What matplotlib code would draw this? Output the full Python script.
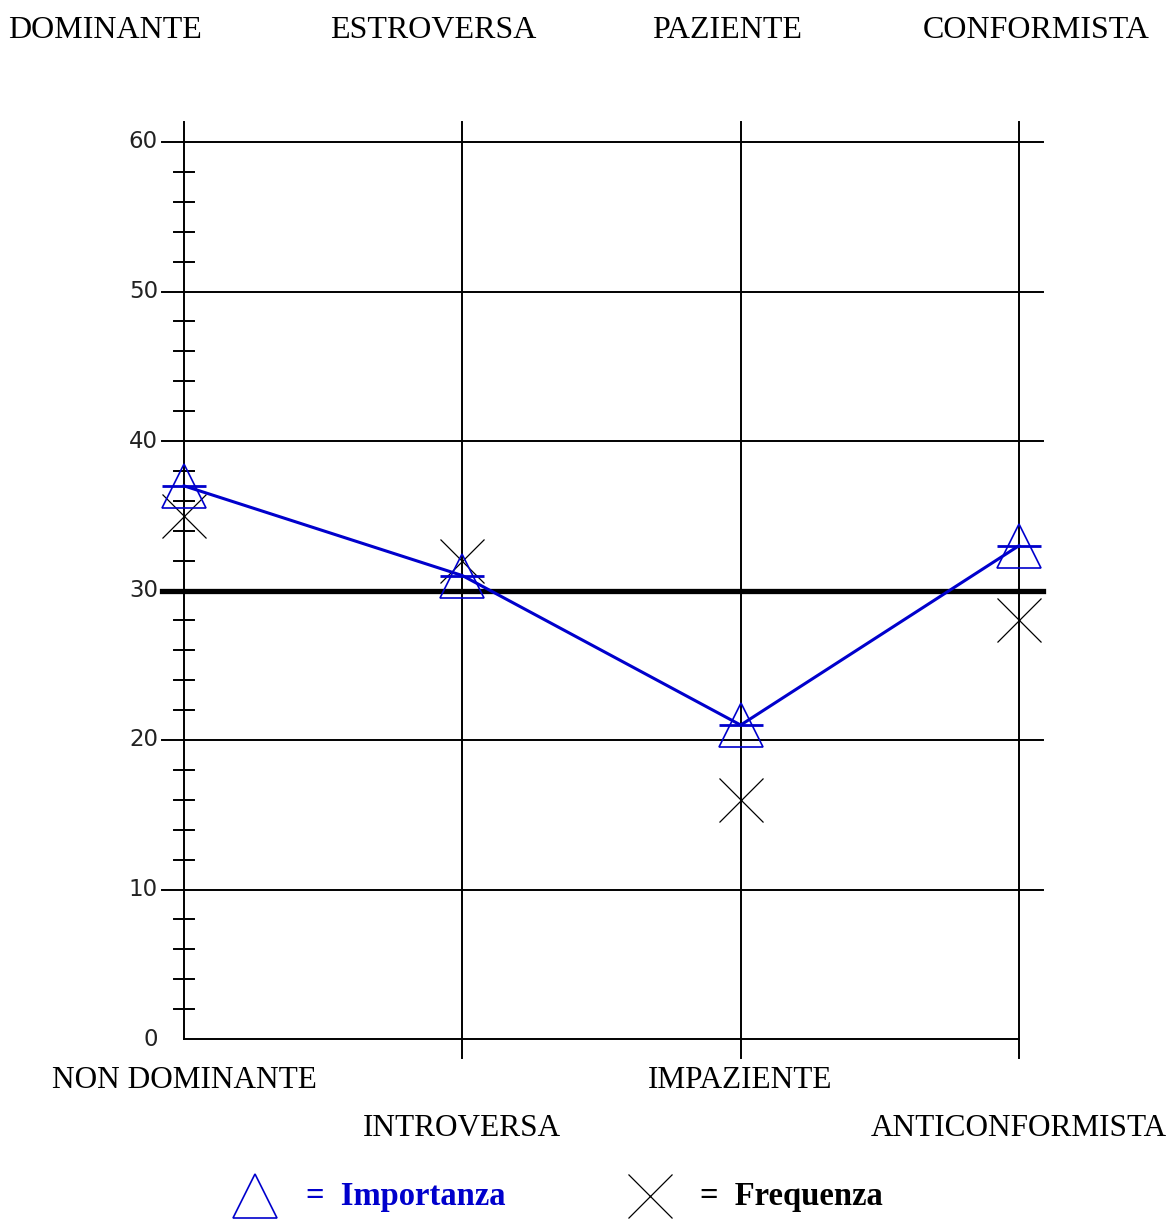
import matplotlib
matplotlib.use("Agg")
import matplotlib.pyplot as plt

# ---- data ----
top_labels = ["DOMINANTE", "ESTROVERSA", "PAZIENTE", "CONFORMISTA"]
bottom_labels = ["NON DOMINANTE", "INTROVERSA", "IMPAZIENTE", "ANTICONFORMISTA"]
importanza = [37, 31, 21, 33]
frequenza = [35, 32, 16, 28]
y_major = [0, 10, 20, 30, 40, 50, 60]
y_minor = [2, 4, 6, 8, 12, 14, 16, 18, 22, 24, 26, 28, 32, 34, 36, 38, 42, 44, 46, 48, 52, 54, 56, 58]
reference_line = 30

W, H = 1173, 1221
fig = plt.figure(figsize=(W / 100, H / 100), dpi=100)
fig.patch.set_facecolor("white")

def fx(px):
    return px / W

def fy(py):
    return 1 - py / H

# axes: x=0..3 maps to px 184..1019, y=0..60 maps to py 1039..142
ax = fig.add_axes([fx(184), fy(1039), fx(1019) - fx(184), fy(142) - fy(1039)])
ax.set_xlim(0, 3)
ax.set_ylim(0, 60)
ax.axis("off")

pxu_x = (1019 - 184) / 3.0
pxu_y = (1039 - 142) / 60.0
xl = -22 / pxu_x
xr = 3 + 24 / pxu_x
ytop = 60 + 20 / pxu_y
ybot = -19 / pxu_y

n = len(top_labels)
xs = list(range(n))

# grid: horizontal lines
for v in y_major:
    if v == 0:
        ax.plot([0, n - 1], [0, 0], color="black", lw=1.4, clip_on=False, zorder=1)
    elif v == reference_line:
        continue
    else:
        ax.plot([xl, xr], [v, v], color="black", lw=1.4, clip_on=False, zorder=1)
# thick reference line
ax.plot([xl, xr], [reference_line, reference_line], color="black", lw=3.8,
        clip_on=False, zorder=2)
# vertical lines
for i in xs:
    lo = 0 if i == 0 else ybot
    ax.plot([i, i], [lo, ytop], color="black", lw=1.4, clip_on=False, zorder=1)
# minor ticks on left axis
for v in y_minor:
    ax.plot([-10 / pxu_x, 10 / pxu_x], [v, v], color="black", lw=1.4,
            clip_on=False, zorder=1)
# y tick labels
for v in y_major:
    ax.text(-26 / pxu_x, v, str(v), ha="right", va="center", fontsize=16.5,
            family="DejaVu Sans", color="#222222")

blue = "#0000CC"
# Importanza line
ax.plot(xs, importanza, color=blue, lw=2.2, zorder=4, clip_on=False)
ax.plot(xs, importanza, linestyle="none", marker="_", ms=32, mew=2.0,
        color=blue, zorder=5, clip_on=False)
ax.plot(xs, importanza, linestyle="none", marker="^", ms=31, mfc="none",
        mec=blue, mew=1.2, zorder=5, clip_on=False)
# Frequenza markers
ax.plot(xs, frequenza, linestyle="none", marker="x", ms=32, mew=0.9,
        color="black", zorder=3, clip_on=False)

# top labels
top_x = [105, 433, 727, 1036]
for lab, px in zip(top_labels, top_x):
    fig.text(fx(px), fy(30), lab, ha="center", va="center", fontsize=23,
             family="Liberation Serif")

# bottom labels
bot_y = [1080, 1128, 1080, 1128]
bot_x = [184, 462, 740, 1019]
for lab, px, py in zip(bottom_labels, bot_x, bot_y):
    fig.text(fx(px), fy(py), lab, ha="center", va="center", fontsize=22.5,
             family="Liberation Serif")

# legend
fig.add_artist(plt.Line2D([fx(255)], [fy(1196)], marker="^", ms=32, mfc="none",
                          mec=blue, mew=1.2, linestyle="none"))
fig.text(fx(306), fy(1196), "=  Importanza", ha="left", va="center", fontsize=23.5,
         family="Liberation Serif", fontweight="bold", color=blue)
fig.add_artist(plt.Line2D([fx(650)], [fy(1196)], marker="x", ms=32, mew=0.9,
                          color="black", linestyle="none"))
fig.text(fx(700), fy(1196), "=  Frequenza", ha="left", va="center", fontsize=23.5,
         family="Liberation Serif", fontweight="bold", color="black")

fig.savefig("out.png", dpi=100, facecolor="white")
